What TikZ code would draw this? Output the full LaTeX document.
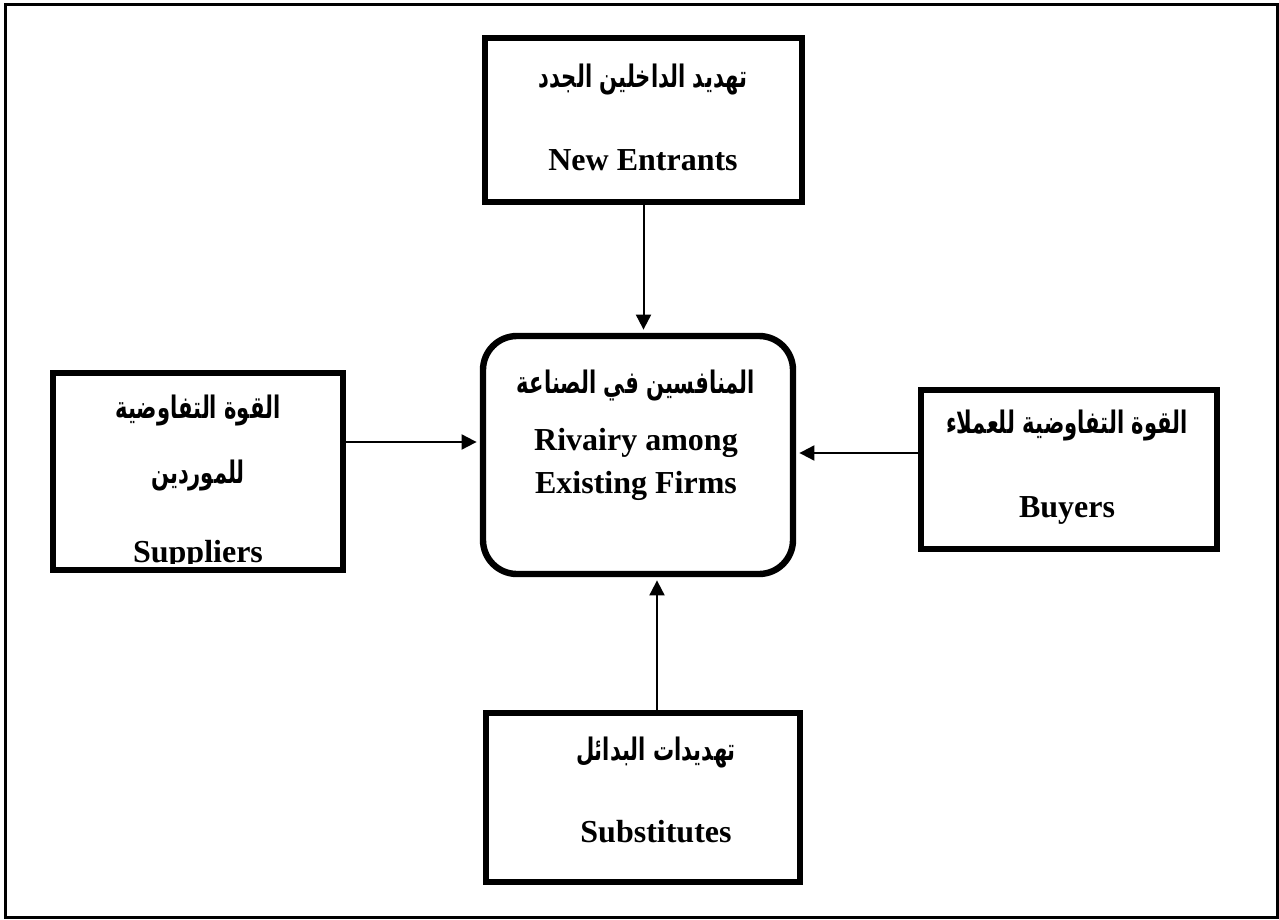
\documentclass[tikz,border=0pt]{standalone}
\usepackage{fontspec}
\setmainfont{Liberation Serif}
\newfontfamily\arabicfont[Script=Arabic,FakeStretch=0.68]{DejaVu Sans}
\TeXXeTstate=1
\usetikzlibrary{arrows.meta}
\newcommand{\arline}[1]{{\arabicfont\bfseries\beginR #1\endR}}

\begin{document}
\begin{tikzpicture}[x=0.5pt,y=-0.5pt,
  force/.style={draw,line width=3.2pt,inner sep=0pt},
  en/.style={anchor=base,inner sep=0pt,font=\fontsize{16}{19}\selectfont\bfseries},
  arab/.style={anchor=base,inner sep=0pt,font=\fontsize{15.5}{18}\selectfont},
  push/.style={-{Triangle[length=7.5pt,width=7.5pt]},line width=1pt,shorten >=1.6pt}]
  \useasboundingbox (0,0) rectangle (1279,920);
  \draw[line width=1.5pt] (5,5) rectangle (1277,917);
  % the five forces
  \node[force,minimum width=158.5pt,minimum height=82pt] (new) at (643.5,120) {};
  \node[force,rounded corners=17pt,minimum width=155pt,minimum height=119pt] (rival) at (638,455) {};
  \node[force,minimum width=145pt,minimum height=98.5pt] (supp) at (198,471.5) {};
  \node[force,minimum width=148pt,minimum height=79.5pt] (buy) at (1069,469.5) {};
  \node[force,minimum width=157pt,minimum height=84.5pt] (subst) at (643,797.5) {};
  % texts
  \node[arab] (newA) at (643,88) {\arline{تهديد الداخلين الجدد}};
  \node[en] (newE) at (643,170) {New Entrants};
  \node[arab] (rivalA) at (636,393) {\arline{المنافسين في الصناعة}};
  \node[en] (rivalE1) at (636,450) {Rivairy among};
  \node[en] (rivalE2) at (636,493) {Existing Firms};
  \node[arab] (suppA1) at (198,418) {\arline{القوة التفاوضية}};
  \node[arab] (suppA2) at (198,483) {\arline{للموردين}};
  \begin{scope}
    \clip (53,373) rectangle (343,563);
    \node[en] (suppE) at (198,562) {Suppliers};
  \end{scope}
  \node[arab] (buyA) at (1067,433) {\arline{القوة التفاوضية للعملاء}};
  \node[en] (buyE) at (1067,517) {Buyers};
  \node[arab] (substA) at (656,760) {\arline{تهديدات البدائل}};
  \node[en] (substE) at (656,842) {Substitutes};
  % arrows into the rivalry box
  \draw[push] (new.south) -- (new.south |- rival.north);
  \draw[push] ([yshift=14.75pt]supp.east) -- ([yshift=14.75pt]supp.east -| rival.west);
  \draw[push] ([yshift=8.25pt]buy.west) -- ([yshift=8.25pt]buy.west -| rival.east);
  \draw[push] ([xshift=7pt]subst.north) -- ([xshift=7pt]subst.north |- rival.south);
\end{tikzpicture}
\end{document}
